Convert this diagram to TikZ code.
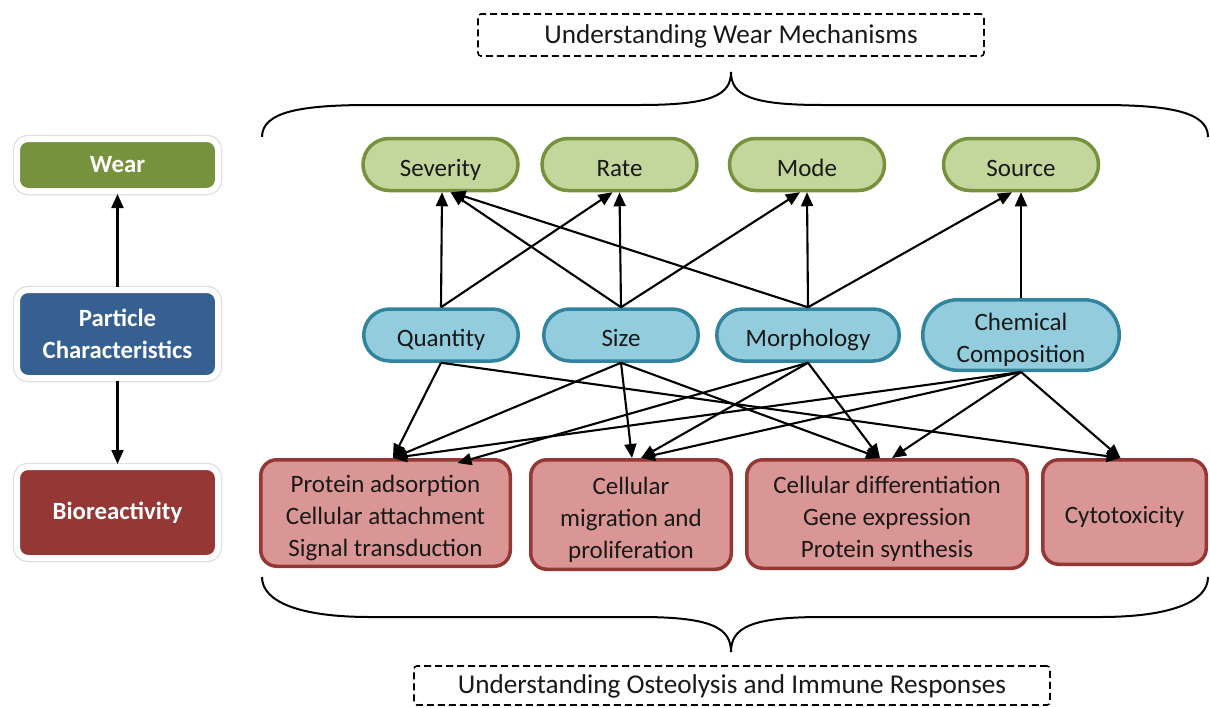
\documentclass[tikz,border=0pt]{standalone}
\usepackage{fontspec}
\setmainfont{Carlito}
\usetikzlibrary{arrows.meta,calc}
\definecolor{gfill}{HTML}{C3D69B}
\definecolor{gdraw}{HTML}{76923C}
\definecolor{bfill}{HTML}{93CDDD}
\definecolor{bdraw}{HTML}{31849B}
\definecolor{rfill}{HTML}{D99694}
\definecolor{rdraw}{HTML}{953735}
\definecolor{wearc}{HTML}{76923C}
\definecolor{partc}{HTML}{366092}
\definecolor{bioc}{HTML}{953735}
\newcommand\fs{\rule{0pt}{28pt}}
\newcommand\ls{\rule[-5pt]{0pt}{0pt}}
\newcommand\tx{\rule[-6pt]{0pt}{28pt}}
\begin{document}
\begin{tikzpicture}[x=1pt,y=-1pt,
  txt/.style={font=\fontsize{25}{32}\selectfont, align=center, text=black!90, inner sep=0pt},
  pill/.style={txt, line width=3.5pt},
  gbox/.style={pill, fill=gfill, draw=gdraw, rounded corners=26pt, minimum width=155pt, minimum height=52pt},
  bbox/.style={pill, fill=bfill, draw=bdraw, rounded corners=26pt, minimum height=52pt},
  rbox/.style={pill, fill=rfill, draw=rdraw, rounded corners=16pt},
  lbox/.style={font=\fontsize{24.8}{32}\selectfont\bfseries, text=white, align=center, inner sep=0pt,
    rounded corners=11pt, draw=white, line width=6pt, minimum width=201pt,
    preaction={draw=black!13, line width=8.5pt}},
  dbox/.style={draw=black, line width=1.6pt, dash pattern=on 7pt off 4pt, rounded corners=3pt,
    font=\fontsize{27.2}{30}\selectfont, text=black!90, inner sep=0pt},
  arr/.style={-{Triangle[length=14pt,width=12pt]}, line width=2.1pt},
  brace/.style={line width=2pt}
]
\useasboundingbox (0,0) rectangle (1210,707);

% left column
\node[lbox, fill=wearc, minimum height=52pt] (wear) at (117.5,165) {Wear};
\node[lbox, fill=partc, minimum height=88pt] (part) at (117.5,334) {Particle\\Characteristics};
\node[lbox, fill=bioc, minimum height=91pt] (bio) at (117.5,512.5) {Bioreactivity};
\draw[arr] (part.north) -- (wear.south);
\draw[arr] (part.south) -- (bio.north);

% dashed titles
\node[dbox, minimum width=506pt, minimum height=42pt] (t1) at (731,35) {\tx Understanding Wear Mechanisms};
\node[dbox, minimum width=636pt, minimum height=39pt] (t2) at (732,685.5) {\tx Understanding Osteolysis and Immune Responses};

% braces
\draw[brace] (262,137) .. controls (262,112) and (300,105) .. (370,105) -- (640,105)
  .. controls (712,105) and (731,95) .. (731,72)
  .. controls (731,95) and (750,105) .. (822,105) -- (1100,105)
  .. controls (1170,105) and (1208,112) .. (1208,137);
\draw[brace] (262,577) .. controls (262,602) and (300,617) .. (370,617) -- (640,617)
  .. controls (712,617) and (731,628) .. (731,652)
  .. controls (731,628) and (750,617) .. (822,617) -- (1100,617)
  .. controls (1170,617) and (1208,602) .. (1208,577);

% green
\node[gbox] (sev) at (440.5,164.5) {\fs\ls Severity};
\node[gbox] (rate) at (619.5,164.5) {\fs\ls Rate};
\node[gbox] (mode) at (807,164.5) {\fs\ls Mode};
\node[gbox] (src) at (1021,164.5) {\fs\ls Source};

% blue
\node[bbox, minimum width=154.5pt] (qty) at (441,335) {\fs\ls Quantity};
\node[bbox, minimum width=154.5pt] (size) at (621,335) {\fs\ls Size};
\node[bbox, minimum width=182.5pt] (morph) at (808,335) {\fs\ls Morphology};
\node[bbox, rounded corners=35pt, minimum width=196.5pt, minimum height=70.5pt] (chem) at (1021,335) {\fs Chemical\\\ls Composition};

% red
\node[rbox, minimum width=249.5pt, minimum height=106.5pt] (r1) at (385.5,513) {\fs Protein adsorption\\Cellular attachment\\\ls Signal transduction};
\node[rbox, minimum width=200.5pt, minimum height=109.5pt] (r2) at (631,514.5) {\fs Cellular\\migration and\\\ls proliferation};
\node[rbox, minimum width=280.5pt, minimum height=108.5pt] (r3) at (887,514) {\fs Cellular differentiation\\Gene expression\\\ls Protein synthesis};
\node[rbox, minimum width=163.5pt, minimum height=104.5pt] (r4) at (1124.5,512) {\fs\ls Cytotoxicity};

% upward arrows
\draw[arr] (qty.north) -- ([xshift=1.5pt]sev.south);
\draw[arr] (qty.north) -- ([xshift=-7pt]rate.south);
\draw[arr] (size.north) -- ([xshift=10pt]sev.south);
\draw[arr] (size.north) -- (rate.south);
\draw[arr] (size.north) -- ([xshift=-7pt]mode.south);
\draw[arr] (morph.north) -- ([xshift=11pt]sev.south);
\draw[arr] (morph.north) -- (mode.south);
\draw[arr] (morph.north) -- ([xshift=-9pt]src.south);
\draw[arr] (chem.north) -- (src.south);

% downward arrows
\draw[arr] (qty.south) -- ([xshift=7.5pt]r1.north);
\draw[arr] (qty.south) -- ([xshift=-4pt]r4.north);
\draw[arr] (size.south) -- ([xshift=7.5pt]r1.north);
\draw[arr] (size.south) -- ([xshift=1pt]r2.north);
\draw[arr] (size.south) -- ([xshift=-7pt]r3.north);
\draw[arr] (morph.south) -- ([xshift=72pt,yshift=-5pt]r1.north);
\draw[arr] (morph.south) -- ([xshift=10pt]r2.north);
\draw[arr] (morph.south) -- ([xshift=-7pt]r3.north);
\draw[arr] (chem.south) -- ([xshift=7.5pt]r1.north);
\draw[arr] (chem.south) -- ([xshift=10pt]r2.north);
\draw[arr] (chem.south) -- ([xshift=5pt]r3.north);
\draw[arr] (chem.south) -- ([xshift=-4pt]r4.north);
\end{tikzpicture}
\end{document}
